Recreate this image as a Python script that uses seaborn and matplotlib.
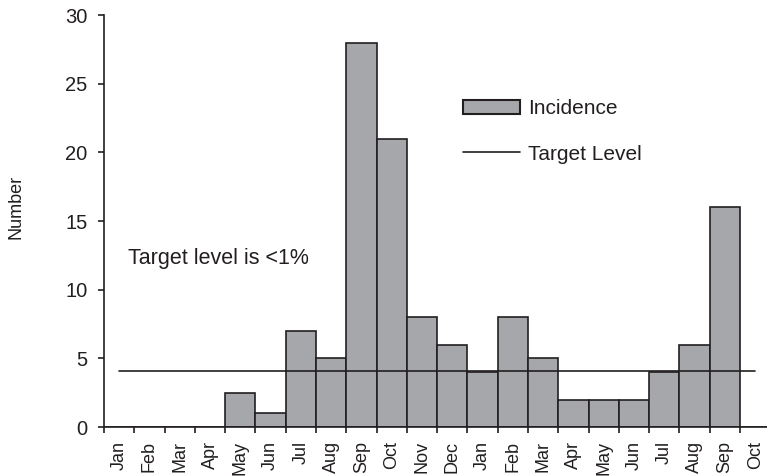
import numpy as np
import pandas as pd
import seaborn as sns
import matplotlib.pyplot as plt
from matplotlib.patches import Patch
from matplotlib.lines import Line2D

months = ["Jan", "Feb", "Mar", "Apr", "May", "Jun", "Jul", "Aug", "Sep", "Oct", "Nov",
          "Dec", "Jan", "Feb", "Mar", "Apr", "May", "Jun", "Jul", "Aug", "Sep", "Oct"]
incidence = [0, 0, 0, 0, 2.5, 1, 7, 5, 28, 21, 8, 6, 4, 8, 5, 2, 2, 2, 4, 6, 16, 0]
target = [4.1] * len(months)

slot = list(range(len(months)))
df = pd.DataFrame({"slot": slot, "Incidence": incidence, "Target": target})

sns.set_theme(style="white")
plt.rcParams['font.family'] = ['Liberation Sans', 'DejaVu Sans']
plt.rcParams['font.size'] = 13
ink = '#231f20'

fig = plt.figure(figsize=(7.67, 4.76), dpi=100)
ax = fig.add_axes([0.1356, 0.1029, 0.8687, 0.8655])

sns.barplot(data=df, x="slot", y="Incidence", ax=ax, width=1.0, color='#a6a7ab',
            saturation=1, edgecolor=ink, linewidth=1.2)
sns.lineplot(data=df, x="slot", y="Target", ax=ax, color=ink, linewidth=1.2)

ax.set_xlim(-0.5, len(months) - 0.5)
ax.set_ylim(0, 30)
ax.set_yticks([0, 5, 10, 15, 20, 25, 30])
ax.set_xticks(slot)
ax.set_xticklabels(months, rotation=90, fontsize=13, color=ink)
ax.set_xticks(np.arange(-0.5, len(months) - 0.5, 1), minor=True)
ax.tick_params(axis='x', which='major', length=0, pad=10)
ax.tick_params(axis='x', which='minor', length=4.5, width=1.2, color=ink, direction='out',
               bottom=True)
ax.tick_params(axis='y', length=4.5, width=1.2, color=ink, left=True, labelsize=14.5,
               labelcolor=ink, pad=7.5)
ax.set_xlabel(None)
ax.set_ylabel("Number", fontsize=13, color=ink)
ax.yaxis.set_label_coords(-0.12, 0.534)
sns.despine(ax=ax)
for s in ["left", "bottom"]:
    ax.spines[s].set_color(ink)
    ax.spines[s].set_linewidth(1.2)

ax.text(0.3, 12.3, "Target level is <1%", fontsize=15.5, color=ink, va='center')

handles = [Patch(facecolor='#a6a7ab', edgecolor=ink, linewidth=1.5),
           Line2D([0], [0], color=ink, linewidth=1.2)]
ax.legend(handles, ["Incidence", "Target Level"], frameon=False, loc='upper left',
          bbox_to_anchor=(0.539, 0.795), borderpad=0, borderaxespad=0,
          handlelength=2.75, handleheight=0.62, handletextpad=0.35, labelspacing=1.25,
          fontsize=15, labelcolor=ink)

fig.savefig("out.png", dpi=100)
